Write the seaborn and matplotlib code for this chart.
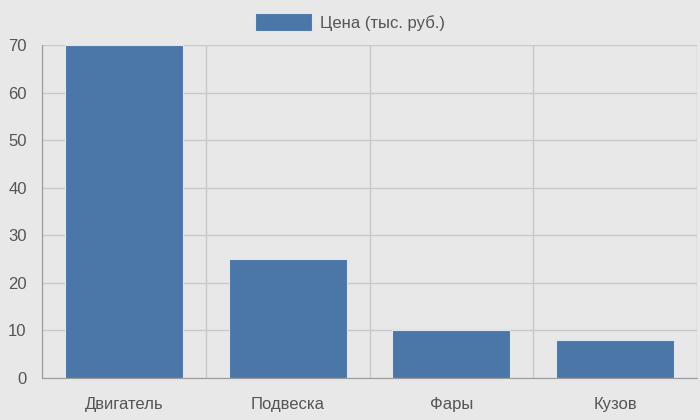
import matplotlib
matplotlib.use("Agg")
from matplotlib import pyplot as plt
from matplotlib.patches import Patch
import numpy as np
import pandas as pd
import seaborn as sns

parts = ["Двигатель", "Подвеска", "Фары", "Кузов"]
prices = [70, 25, 10, 8]
series_name = "Цена (тыс. руб.)"

bg = "#e8e8e8"
bar_color = "#4a77a8"
grid_color = "#c9c9c9"
axis_color = "#9a9a9a"
text_color = "#555555"

sns.set_style("white")
plt.rcParams["font.family"] = ["Liberation Sans", "DejaVu Sans"]

df = pd.DataFrame({"part": parts, "price": prices})

fig = plt.figure(figsize=(7, 4.2), dpi=100, facecolor=bg)
ax = fig.add_axes([42 / 700, 1 - 378 / 420, 655 / 700, 333 / 420])
ax.set_facecolor(bg)

sns.barplot(data=df, x="part", y="price", color=bar_color, saturation=1,
            width=0.72, edgecolor="#dfe6ee", linewidth=0.8, ax=ax, zorder=3)

n = len(parts)
ax.set_xlim(-0.5, n - 0.5)
ax.set_ylim(0, 70)
ax.set_yticks(np.arange(0, 71, 10))
ax.set_xticks(np.arange(-0.5, n, 1), minor=True)
ax.set_xlabel("")
ax.set_ylabel("")

ax.grid(True, which="major", axis="y", color=grid_color, linewidth=1, zorder=0)
ax.grid(True, which="minor", axis="x", color=grid_color, linewidth=1, zorder=0)
ax.tick_params(axis="x", which="major", length=0, pad=14, labelsize=12, labelcolor=text_color)
ax.tick_params(axis="x", which="minor", length=14, color=grid_color, width=1)
ax.tick_params(axis="y", which="major", length=9, color=grid_color, width=1, pad=2,
               labelsize=12, labelcolor=text_color)

for side in ["top", "right"]:
    ax.spines[side].set_visible(False)
ax.spines["left"].set_color(axis_color)
ax.spines["bottom"].set_color(axis_color)
ax.spines["left"].set_zorder(4)
ax.spines["bottom"].set_zorder(4)

handle = Patch(facecolor=bar_color, edgecolor="#dfe6ee", linewidth=0.8)
fig.legend([handle], [series_name], loc="center", bbox_to_anchor=(350 / 700, 1 - 22 / 420),
           frameon=False, fontsize=12, labelcolor=text_color,
           handlelength=3.4, handleheight=1.2, handletextpad=0.5)

fig.savefig("out.png", dpi=100, facecolor=bg)
